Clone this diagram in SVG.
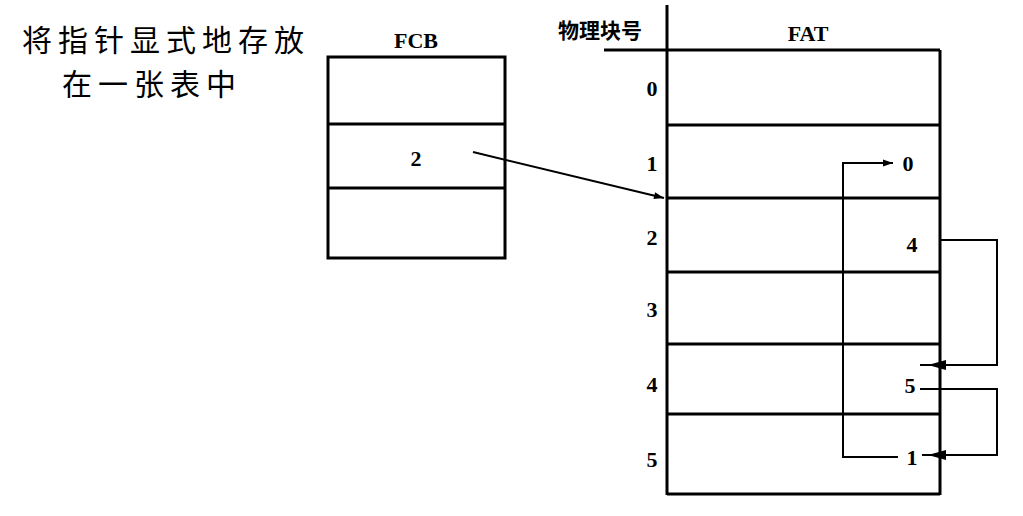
<svg xmlns="http://www.w3.org/2000/svg" width="1023" height="516" viewBox="0 0 1023 516">
<defs>
<style>
.ln{stroke:#000;stroke-width:3;fill:none}
.th{stroke:#000;stroke-width:2;fill:none}
.num{font-family:"Liberation Serif",serif;font-size:22px;font-weight:bold;fill:#000;text-anchor:middle}
.cap{font-family:"Noto Sans CJK SC",sans-serif;font-size:30px;letter-spacing:6px;fill:#000}
</style>
<marker id="ar2" viewBox="0 0 10 10" refX="10" refY="5" markerWidth="22" markerHeight="10" orient="auto" markerUnits="userSpaceOnUse"><path d="M0,1.5 L10,5 L0,8.5 Z" fill="#000"/></marker>
</defs>
<rect width="1023" height="516" fill="#fff"/>
<g id="title">
<text class="cap" x="22" y="51">将指针显式地存放</text>
<text class="cap" x="62" y="95">在一张表中</text>
</g>
<g id="fcb">
<text class="num" x="416" y="48" font-size="19">FCB</text>
<rect class="ln" x="328" y="57" width="177" height="201"/>
<line class="ln" x1="328" y1="124" x2="505" y2="124"/>
<line class="ln" x1="328" y1="188" x2="505" y2="188"/>
<text class="num" x="416" y="166">2</text>
</g>
<g id="fat">
<text x="600" y="38" font-family="Noto Sans CJK SC,sans-serif" font-size="21" font-weight="bold" text-anchor="middle">物理块号</text>
<text class="num" x="808" y="41" font-weight="normal">FAT</text>
<line class="ln" x1="667" y1="5" x2="667" y2="495"/>
<line class="ln" x1="604" y1="50" x2="940" y2="50"/>
<line class="ln" x1="940" y1="50" x2="940" y2="495"/>
<line class="ln" x1="667" y1="125" x2="940" y2="125"/>
<line class="ln" x1="667" y1="198" x2="940" y2="198"/>
<line class="ln" x1="667" y1="272" x2="940" y2="272"/>
<line class="ln" x1="667" y1="344" x2="940" y2="344"/>
<line class="ln" x1="667" y1="414" x2="940" y2="414"/>
<line class="ln" x1="667" y1="494" x2="940" y2="494"/>
<text class="num" x="652" y="96">0</text>
<text class="num" x="652" y="171">1</text>
<text class="num" x="652" y="245">2</text>
<text class="num" x="652" y="317">3</text>
<text class="num" x="652" y="392">4</text>
<text class="num" x="652" y="467">5</text>
<text class="num" x="908" y="171">0</text>
<text class="num" x="912" y="252">4</text>
<text class="num" x="910" y="393">5</text>
<text class="num" x="912" y="465">1</text>
</g>
<g id="connectors">
<line class="th" x1="473" y1="152" x2="664" y2="198" marker-end="url(#ar2)"/>
<polyline class="th" points="898,457 843,457 843,163 893,163" marker-end="url(#ar2)"/>
<polyline class="th" points="940,240 997,240 997,365 920,365"/>
<polyline class="th" points="920,389 997,389 997,455 922,455"/>
<path d="M928,360 L946,365 L928,370 Z" transform="rotate(180 937 365)" fill="#000"/>
<path d="M928,450 L946,455 L928,460 Z" transform="rotate(180 937 455)" fill="#000"/>
</g>
</svg>
